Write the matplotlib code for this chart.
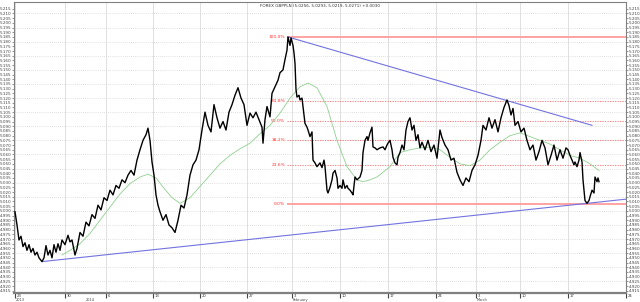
import numpy as np
import matplotlib.pyplot as plt

# hourly bars, counted from the left edge of the chart
bar = [1, 3, 5, 7, 9, 11, 13, 15, 17, 19, 21, 23, 25, 28, 30, 32, 34, 36, 38, 40, 42, 44, 46,
       48, 51, 54, 56, 58, 61, 63, 66, 69, 72, 75, 78, 81, 84, 87, 90, 93, 96, 99, 102, 105, 108,
       111, 114, 117, 120, 123, 126, 129, 132, 134,
       136, 138, 140, 142, 144, 146, 149, 152, 155, 158, 161, 164, 167, 170, 173, 176, 179, 182,
       185, 188, 191, 194, 197, 200, 203, 206, 209, 212, 215, 218, 221, 224, 227, 230, 233, 236,
       239, 242, 245, 248,
       249, 251, 253, 256, 258, 261, 264, 266, 269, 271, 273, 274, 276, 277, 279, 280, 281, 282,
       283, 285, 286, 288, 289, 291, 293, 294, 296,
       298, 299, 301, 303, 306, 308, 310, 311, 313, 314, 316, 318, 319, 321, 323, 324, 326, 328,
       329, 331, 333, 334, 336, 338, 339,
       341, 343, 346, 348, 349, 351, 353, 354, 356, 358, 359, 361, 363, 366, 369, 371, 373, 374,
       376, 378, 379, 381, 383, 384, 386,
       388, 390, 392, 394, 396, 398, 400, 402, 404, 406, 408, 411, 414, 417, 420, 423, 426, 428,
       431, 434, 437, 440, 443, 446, 449, 452, 455, 458, 461, 464, 467, 469, 472, 475, 478, 481,
       484, 487, 490, 493,
       495, 497, 499, 501, 504, 507, 510, 513, 516, 519, 522, 525, 528, 531, 534, 537, 540, 543,
       546, 549, 552, 554, 556, 558, 560, 561, 563, 565, 566, 568, 569, 571, 573, 575, 576, 578,
       580, 581, 583, 584, 585]

close = [4.999, 4.985, 4.969, 4.973, 4.962, 4.966, 4.958, 4.964, 4.956, 4.960, 4.953, 4.956,
         4.950, 4.946, 4.950, 4.963, 4.953, 4.958, 4.950, 4.964, 4.956, 4.965, 4.958,
         4.969, 4.964, 4.974, 4.967, 4.969, 4.953, 4.960, 4.977, 4.973, 4.988, 4.984, 4.996,
         4.992, 5.006, 5.001, 5.014, 5.011, 5.022, 5.017, 5.027, 5.024, 5.033, 5.030, 5.038,
         5.043, 5.038, 5.054, 5.065, 5.075, 5.081, 5.088,
         5.075, 5.052, 5.038, 5.017, 5.006, 4.999, 4.990, 4.996, 4.985, 4.982, 4.977, 4.990,
         5.006, 5.003, 5.017, 5.038, 5.049, 5.054, 5.065, 5.086, 5.105, 5.091, 5.084, 5.113,
         5.099, 5.088, 5.095, 5.086, 5.105, 5.113, 5.123, 5.131, 5.120, 5.113, 5.091, 5.104,
         5.099, 5.105, 5.097, 5.089,
         5.072, 5.097, 5.111, 5.100, 5.125, 5.132, 5.139, 5.147, 5.150, 5.161, 5.171, 5.185,
         5.176, 5.184, 5.176, 5.168, 5.157, 5.129, 5.121, 5.123, 5.118, 5.120, 5.111, 5.093,
         5.089, 5.086, 5.079,
         5.084, 5.054, 5.051, 5.047, 5.051, 5.046, 5.054, 5.047, 5.022, 5.019, 5.025, 5.033,
         5.040, 5.043, 5.035, 5.024, 5.027, 5.024, 5.033, 5.024, 5.027, 5.024, 5.022, 5.019, 5.017,
         5.036, 5.033, 5.036, 5.043, 5.062, 5.075, 5.079, 5.075, 5.083, 5.089, 5.068, 5.067,
         5.065, 5.067, 5.068, 5.065, 5.070, 5.072, 5.075, 5.065, 5.057, 5.051, 5.049, 5.057, 5.062,
         5.070, 5.065, 5.086, 5.095, 5.099, 5.086, 5.091, 5.075, 5.081, 5.067, 5.073, 5.065,
         5.075, 5.063, 5.070, 5.056, 5.086, 5.078, 5.070, 5.065, 5.054, 5.056, 5.041, 5.033,
         5.027, 5.035, 5.031, 5.043, 5.049, 5.059, 5.075, 5.091, 5.086, 5.099, 5.088, 5.097,
         5.084, 5.099, 5.110, 5.118,
         5.112, 5.102, 5.109, 5.091, 5.095, 5.084, 5.088, 5.075, 5.065, 5.070, 5.054, 5.063,
         5.075, 5.067, 5.049, 5.059, 5.070, 5.054, 5.065, 5.056, 5.067, 5.065, 5.059, 5.054,
         5.049, 5.052, 5.047, 5.054, 5.062, 5.052, 5.033, 5.011, 5.008, 5.011, 5.015, 5.022,
         5.019, 5.036, 5.031, 5.035, 5.031]

# moving average (green)
ma_bar = [48, 56, 66, 76, 86, 96, 106, 116, 126, 134, 142, 150, 158, 166, 176, 186, 196, 206,
          216, 226, 236, 246, 256, 266, 276, 286, 294, 303, 313, 323, 333, 343, 349, 356, 363,
          376, 386, 396, 406, 416, 426, 436, 446, 456, 466, 476, 486, 496, 506, 516, 526, 536,
          546, 556, 566, 576, 585]
ma = [4.953, 4.958, 4.965, 4.976, 4.990, 5.004, 5.018, 5.029, 5.036, 5.039, 5.035, 5.024,
      5.014, 5.008, 5.014, 5.026, 5.038, 5.050, 5.059, 5.066, 5.072, 5.082, 5.091, 5.104,
      5.120, 5.132, 5.136, 5.131, 5.111, 5.075, 5.047, 5.033, 5.031, 5.033, 5.036, 5.047,
      5.062, 5.065, 5.067, 5.068, 5.065, 5.057, 5.050, 5.048, 5.054, 5.065, 5.073, 5.080,
      5.083, 5.079, 5.075, 5.071, 5.065, 5.059, 5.056, 5.050, 5.043]

# trend lines (two touch points each)
low_trend_bar = [28, 573]
low_trend = [4.946, 5.008]
high_trend_bar = [274, 578]
high_trend = [5.185, 5.091]

# fibonacci retracement
fib_high = 5.185
fib_low = 5.007
fib_ratios = [1.0, 0.618, 0.5, 0.382, 0.236, 0.0]
fib_labels = ['100.0%', '61.8%', '50.0%', '38.2%', '23.6%', '0.0%']
fib_start = 273

date_ticks = [1, 51, 92, 139, 186, 233, 278, 326, 374, 422, 462, 506, 554, 612]
date_labels = ['23', '30', '6', '13', '20', '27', '3', '10', '17', '24', '3', '10', '17', '24']
month_pos = [1, 71, 278, 462]
month_labels = ['2013', '2014', 'February', 'March']

title = 'FOREX GBPPLN (5.0256, 5.0293, 5.0219, 5.0271) +0.0030'

fig = plt.figure(figsize=(6.4, 3.02), dpi=100)
ax = fig.add_axes([14 / 640, 9 / 302, 612 / 640, 291 / 302])
ax.set_xlim(0, 612)
ax.set_ylim(4.9126, 5.2222)

# grid
for v in np.arange(4.925, 5.2101, 0.015):
    ax.axhline(v, color='#c4c4c4', lw=0.5, ls=(0, (1, 2)), zorder=0)
for t in date_ticks:
    ax.axvline(t, color='#dadada', lw=0.6, zorder=0)

# fib levels
rng = fib_high - fib_low
for r, lab in zip(fib_ratios, fib_labels):
    lev = fib_low + r * rng
    if r in (0.0, 1.0):
        ax.hlines(lev, fib_start, 612, color='#ff9c9c', lw=1.3, zorder=1)
    else:
        ax.hlines(lev, fib_start, 612, color='#ff6b6b', lw=0.6, linestyles=(0, (1.5, 1.5)), zorder=1)
    ax.text(fib_start - 2, lev, lab, ha='right', va='center', fontsize=3.2, color='#ff3030')

# trend lines
k = np.polyfit(low_trend_bar, low_trend, 1)
ax.plot([low_trend_bar[0], 612], np.polyval(k, [low_trend_bar[0], 612]), color='#7373e0', lw=0.8, zorder=2)
ax.plot(high_trend_bar, high_trend, color='#7373e0', lw=0.8, zorder=2)

ax.plot(ma_bar, ma, color='#8fd08f', lw=0.6, zorder=3)
ax.plot(bar, close, color='black', lw=1.0, zorder=4)

# axes
yt = np.arange(4.915, 5.2151, 0.005)
ax.set_yticks(yt)
ax.set_yticklabels(['%.3f' % v for v in yt])
ax.tick_params(axis='y', left=True, right=True, labelleft=True, labelright=True,
               length=1.5, width=0.4, pad=0.6, labelsize=3, colors='#444444')
ax.set_xticks(date_ticks)
ax.set_xticklabels([])
ax.tick_params(axis='x', length=3.5, width=0.8, colors='#444444')
for s in ax.spines.values():
    s.set_color('#808080')
    s.set_linewidth(0.8)
ax.spines['bottom'].set_linewidth(1.6)

# date labels sit in the bottom band, month names under them
xt = ax.get_xaxis_transform()
for t, lab in zip(date_ticks, date_labels):
    ax.text(t + 2, -3.2 / 291, lab, transform=xt, fontsize=2.7, color='#333333',
            ha='left', va='center')
for p, m in zip(month_pos, month_labels):
    ax.text(p + 1, -7.0 / 291, m, transform=xt, fontsize=2.5, color='#444444',
            ha='left', va='center')

fig.text(0.5, 0.988, title, ha='center', va='top', fontsize=3, color='#333333')

fig.savefig('out.png', dpi=100)
